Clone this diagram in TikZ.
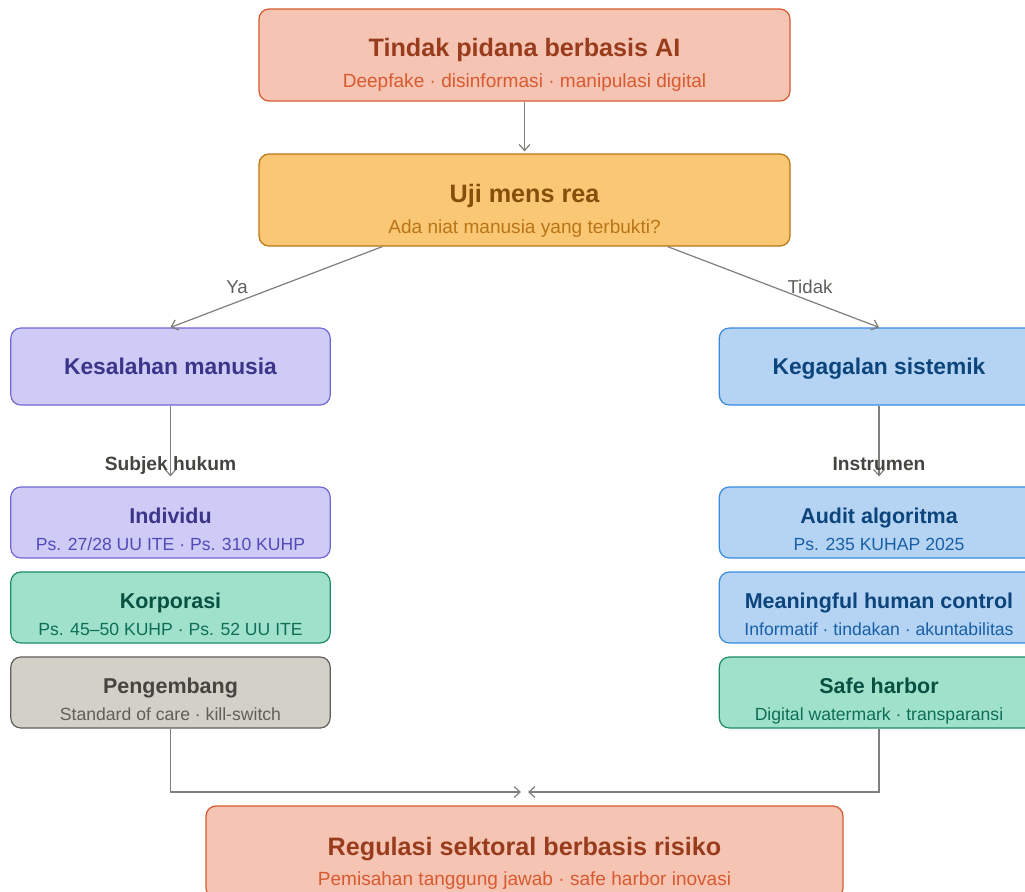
\documentclass[tikz,border=0pt]{standalone}
\usepackage{fontspec}
\setmainfont{Liberation Sans}
\usepackage{tikz}
\usetikzlibrary{arrows.meta}

\definecolor{coralF}{HTML}{F5C4B3}
\definecolor{coralD}{HTML}{D85A30}
\definecolor{coralT}{HTML}{993C1D}
\definecolor{amberF}{HTML}{FAC775}
\definecolor{amberD}{HTML}{BA7517}
\definecolor{amberT}{HTML}{854F0B}
\definecolor{purpF}{HTML}{CECBF6}
\definecolor{purpD}{HTML}{6F67D4}
\definecolor{purpT}{HTML}{3C3489}
\definecolor{purpS}{HTML}{534AB7}
\definecolor{blueF}{HTML}{B5D4F4}
\definecolor{blueD}{HTML}{378ADD}
\definecolor{blueT}{HTML}{0C447C}
\definecolor{blueS}{HTML}{185FA5}
\definecolor{tealF}{HTML}{9FE1CB}
\definecolor{tealD}{HTML}{1D8A68}
\definecolor{tealT}{HTML}{085041}
\definecolor{tealS}{HTML}{0F6E56}
\definecolor{grayF}{HTML}{D3D1C7}
\definecolor{grayD}{HTML}{5F5E5A}
\definecolor{grayT}{HTML}{444441}
\definecolor{lineC}{HTML}{7F7E7A}

\tikzset{
  box/.style={rectangle, rounded corners=7.5pt, line width=0.9pt, inner sep=0pt},
  bigbox/.style={box, minimum width=398.25pt, minimum height=69pt},
  midbox/.style={box, minimum width=239.5pt, minimum height=57.75pt},
  smallbox/.style={box, minimum width=239.5pt, minimum height=53.25pt},
  wide/.style={box, minimum width=477.75pt, minimum height=69pt},
  bigttl/.style={anchor=base, font=\fontsize{18.9pt}{21pt}\selectfont\bfseries},
  bigsub/.style={anchor=base, font=\fontsize{14.3pt}{16pt}\selectfont},
  midttl/.style={anchor=base, font=\fontsize{17.1pt}{19pt}\selectfont\bfseries},
  smlttl/.style={anchor=base, font=\fontsize{16.1pt}{18pt}\selectfont\bfseries},
  smlsub/.style={anchor=base, font=\fontsize{13.2pt}{15pt}\selectfont},
  lbl/.style={anchor=base, font=\fontsize{14pt}{16pt}\selectfont, text=grayD},
  grp/.style={anchor=base, font=\fontsize{14.4pt}{16pt}\selectfont\bfseries, text=grayT},
  arr/.style={draw=lineC, line width=0.9pt, -{Straight Barb[length=4.5pt,width=8pt]}}
}

\begin{document}
\begin{tikzpicture}[x=0.75pt,y=-0.75pt]

\clip (0,0) rectangle (1025,892);

% kotak utama
\node[bigbox, fill=coralF, draw=coralD] (tindak) at (524.5,55) {};
\node[bigttl, text=coralT] (tindakT) at (524.5,57) {Tindak pidana berbasis AI};
\node[bigsub, text=coralD] (tindakS) at (524.5,87.5) {Deepfake · disinformasi · manipulasi digital};

\node[bigbox, fill=amberF, draw=amberD] (uji) at (524.5,200) {};
\node[bigttl, text=amberT] (ujiT) at (524.5,202) {Uji mens rea};
\node[bigsub, text=amberD] (ujiS) at (524.5,233.5) {Ada niat manusia yang terbukti?};

\node[midbox, fill=purpF, draw=purpD] (manusia) at (170.5,366.5) {};
\node[midttl, text=purpT] (manusiaT) at (170.5,374.5) {Kesalahan manusia};

\node[midbox, fill=blueF, draw=blueD] (sistem) at (879,366.5) {};
\node[midttl, text=blueT] (sistemT) at (879,374.5) {Kegagalan sistemik};

% kolom kiri
\node[smallbox, fill=purpF, draw=purpD] (individu) at (170.5,522.5) {};
\node[smlttl, text=purpT] (individuT) at (170.5,523.5) {Individu};
\node[smlsub, text=purpS] (individuS) at (170.5,550) {Ps. 27/28 UU ITE · Ps. 310 KUHP};

\node[smallbox, fill=tealF, draw=tealD] (korporasi) at (170.5,607.5) {};
\node[smlttl, text=tealT] (korporasiT) at (170.5,608.5) {Korporasi};
\node[smlsub, text=tealS] (korporasiS) at (170.5,635) {Ps. 45–50 KUHP · Ps. 52 UU ITE};

\node[smallbox, fill=grayF, draw=grayD] (pengembang) at (170.5,692.5) {};
\node[smlttl, text=grayT] (pengembangT) at (170.5,693.5) {Pengembang};
\node[smlsub, text=grayD] (pengembangS) at (170.5,720) {Standard of care · kill-switch};

% kolom kanan
\node[smallbox, fill=blueF, draw=blueD] (audit) at (879,522.5) {};
\node[smlttl, text=blueT] (auditT) at (879,523.5) {Audit algoritma};
\node[smlsub, text=blueS] (auditS) at (879,550) {Ps. 235 KUHAP 2025};

\node[smallbox, fill=blueF, draw=blueD] (kontrol) at (879,607.5) {};
\node[smlttl, text=blueT] (kontrolT) at (879,608.5) {Meaningful human control};
\node[smlsub, text=blueS] (kontrolS) at (879,635) {Informatif · tindakan · akuntabilitas};

\node[smallbox, fill=tealF, draw=tealD] (harbor) at (879,692.5) {};
\node[smlttl, text=tealT] (harborT) at (879,693.5) {Safe harbor};
\node[smlsub, text=tealS] (harborS) at (879,720) {Digital watermark · transparansi};

\node[wide, fill=coralF, draw=coralD] (regulasi) at (524.5,852) {};
\node[bigttl, text=coralT] (regulasiT) at (524.5,855) {Regulasi sektoral berbasis risiko};
\node[bigsub, text=coralD] (regulasiS) at (524.5,885.5) {Pemisahan tanggung jawab · safe harbor inovasi};

% penghubung
\coordinate (masukKiri) at (521,792);
\coordinate (masukKanan) at (528,792);

\draw[arr, shorten >=1.5pt] (tindak.south) -- (uji.north);
\draw[arr] ([xshift=93pt]uji.south west) -- (manusia.north);
\draw[arr] ([xshift=-92.25pt]uji.south east) -- (sistem.north);
\draw[arr, shorten >=7.5pt] (manusia.south) -- (individu.north);
\draw[arr, shorten >=7.5pt] (sistem.south) -- (audit.north);
\draw[arr] (pengembang.south) |- (masukKiri);
\draw[arr] (harbor.south) |- (masukKanan);

\node[lbl] (ya) at (237,293) {Ya};
\node[lbl] (tidak) at (810,293) {Tidak};
\node[grp] (subjek) at (170.5,470.5) {Subjek hukum};
\node[grp] (instrumen) at (879,470.5) {Instrumen};

\end{tikzpicture}
\end{document}
